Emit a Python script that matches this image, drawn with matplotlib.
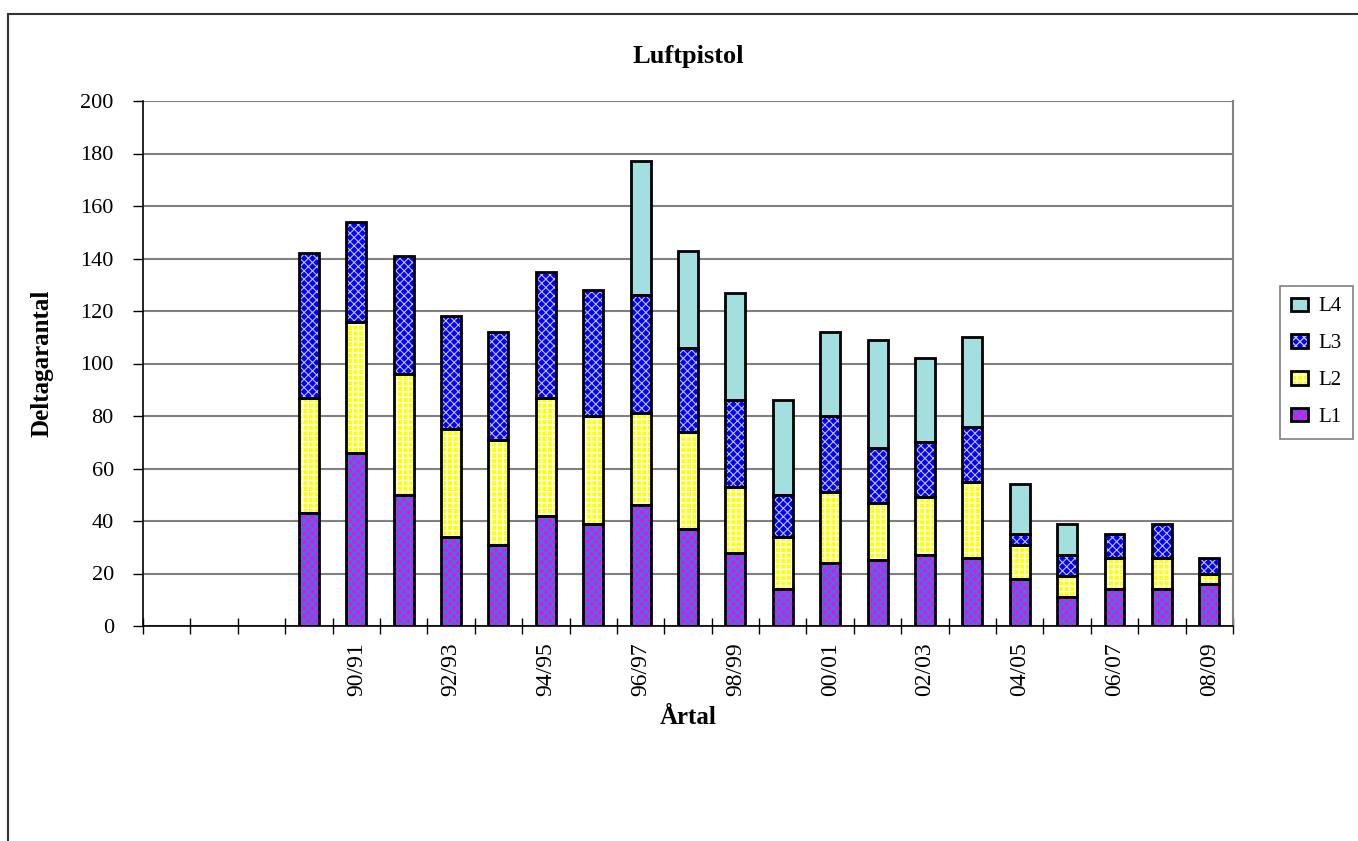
import matplotlib
matplotlib.use('Agg')
from matplotlib import pyplot as plt
from matplotlib.patches import Rectangle, Patch
from matplotlib.legend_handler import HandlerTuple
import numpy as np

# säsonger, de tre första platserna är tomma i originalet
sasonger = ['', '', '', '89/90', '90/91', '91/92', '92/93', '93/94', '94/95',
            '95/96', '96/97', '97/98', '98/99', '99/00', '00/01', '01/02',
            '02/03', '03/04', '04/05', '05/06', '06/07', '07/08', '08/09']

# antal deltagare per klass, från 89/90 till 08/09
l1 = [43, 66, 50, 34, 31, 42, 39, 46, 37, 28, 14, 24, 25, 27, 26, 18, 11, 14, 14, 16]
l2 = [44, 50, 46, 41, 40, 45, 41, 35, 37, 25, 20, 27, 22, 22, 29, 13, 8, 12, 12, 4]
l3 = [55, 38, 45, 43, 41, 48, 48, 45, 32, 33, 16, 29, 21, 21, 21, 4, 8, 9, 13, 6]
l4 = [0, 0, 0, 0, 0, 0, 0, 51, 37, 41, 36, 32, 41, 32, 34, 19, 12, 0, 0, 0]

stil = {
    'L1': dict(fc='#FF00FF', hatch='xxxx', hc='#3a7ad0', lw=1.5),
    'L2': dict(fc='#FFFF00', hatch='+++', hc='white', lw=1.0),
    'L3': dict(fc='#0000FF', hatch='xxxx', hc='#c0c0ff', lw=0.8),
    'L4': dict(fc='#A4DFDF', hatch='', hc='#A4DFDF', lw=1.0),
}


def hatch_lw(patch, lw):
    if hasattr(patch, 'set_hatch_linewidth'):
        patch.set_hatch_linewidth(lw)


def barra(ax, x, h, bredd, bottom, s):
    # fyllning med mönster först, svart kant ovanpå
    with plt.rc_context({'hatch.linewidth': s['lw']}):
        bars = ax.bar(x, h, bredd, bottom=bottom, color=s['fc'], hatch=s['hatch'],
                      edgecolor=s['hc'], linewidth=0, zorder=2)
        for b in bars:
            hatch_lw(b, s['lw'])
    ax.bar(x, h, bredd, bottom=bottom, fill=False, edgecolor='black',
           linewidth=2, zorder=3)


def desenha():
    plt.rcParams['font.family'] = ['Liberation Serif', 'DejaVu Serif']

    fig = plt.figure(figsize=(13.58, 8.41), dpi=100)
    ax = fig.add_axes([143 / 1358, 1 - 626 / 841, (1233 - 143) / 1358, (626 - 101) / 841])

    # ram runt hela diagrammet
    fig.patches.append(Rectangle((8 / 1358, -0.5), 2, 1.5 - 14 / 841,
                                 transform=fig.transFigure, fill=False,
                                 edgecolor='#333333', linewidth=1.5))

    x = np.arange(3, len(sasonger))
    bredd = 0.42
    botten = np.zeros(len(x))
    for namn, varden in [('L1', l1), ('L2', l2), ('L3', l3), ('L4', l4)]:
        v = np.array(varden, dtype=float)
        mask = v > 0
        barra(ax, x[mask], v[mask], bredd, botten[mask], stil[namn])
        botten += v

    ax.set_xlim(-0.5, len(sasonger) - 0.5)
    ax.set_ylim(0, 200)
    ax.set_yticks(range(0, 201, 20))
    ax.yaxis.grid(True, color='#808080', linewidth=1.5, zorder=0)
    ax.set_axisbelow(True)

    # streck vid gränserna, etikett varannan säsong
    ax.set_xticks(np.arange(-0.5, len(sasonger)), minor=True)
    ax.set_xticks(np.arange(0, len(sasonger), 2))
    ax.set_xticklabels(sasonger[::2], rotation=90, fontsize=17)
    ax.tick_params(axis='x', which='major', length=0, pad=12)
    ax.tick_params(axis='x', which='minor', length=12, direction='inout', width=1)
    ax.tick_params(axis='y', length=7, direction='out', width=1, labelsize=16, pad=14)

    ax.spines['top'].set_visible(False)
    ax.spines['right'].set_color('#808080')
    ax.spines['right'].set_linewidth(1.5)
    ax.spines['left'].set_linewidth(1.2)
    ax.spines['bottom'].set_linewidth(1.2)

    fig.text(688 / 1358, 1 - 57 / 841, 'Luftpistol', ha='center', va='center',
             fontsize=19, fontweight='bold')
    fig.text(688 / 1358, 1 - 717 / 841, 'Årtal', ha='center', va='center',
             fontsize=18, fontweight='bold')
    fig.text(42 / 1358, 1 - 363 / 841, 'Deltagarantal', rotation=90, ha='center',
             va='center', fontsize=18, fontweight='bold')

    # legendrutor: mönster + svart kant ovanpå varandra
    handles = []
    for n in ['L4', 'L3', 'L2', 'L1']:
        s = stil[n]
        with plt.rc_context({'hatch.linewidth': s['lw']}):
            fyll = Patch(facecolor=s['fc'], hatch=s['hatch'], edgecolor=s['hc'],
                         linewidth=0)
        hatch_lw(fyll, s['lw'])
        kant = Patch(fill=False, edgecolor='black', linewidth=2)
        handles.append((fyll, kant))
    leg = fig.legend(handles, ['L4', 'L3', 'L2', 'L1'], loc='upper left',
                     handler_map={tuple: HandlerTuple(ndivide=1, pad=0)},
                     bbox_to_anchor=(1280 / 1358, 1 - 286 / 841),
                     bbox_transform=fig.transFigure, borderaxespad=0,
                     fancybox=False, framealpha=1, edgecolor='#808080',
                     fontsize=15, handlelength=0.8, handleheight=0.6,
                     labelspacing=0.86, handletextpad=0.5, borderpad=0.55)
    leg.get_frame().set_linewidth(1.2)

    plt.savefig('out.png', format='png', dpi=100)


def main():
    desenha()


if __name__ == '__main__':
    main()
